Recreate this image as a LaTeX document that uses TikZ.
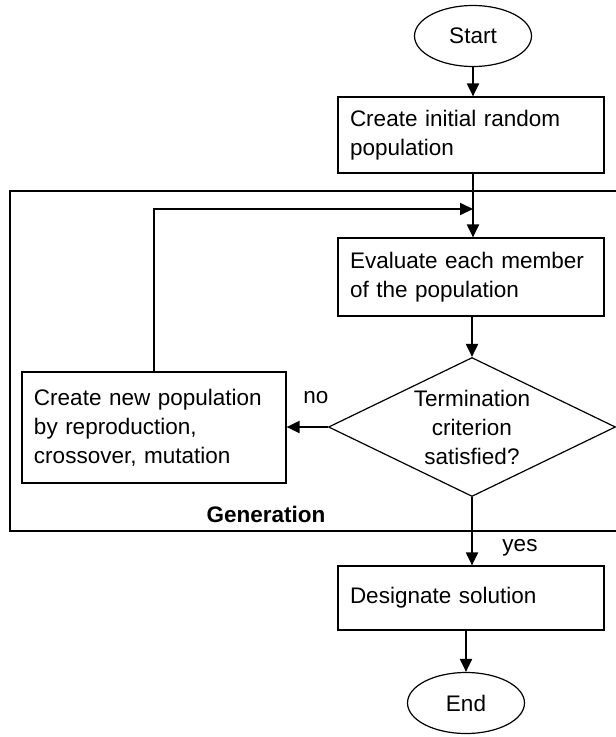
\documentclass[tikz,border=0pt]{standalone}
\usepackage{fontspec}
\setmainfont{Liberation Sans}
\usetikzlibrary{shapes.geometric,arrows.meta}
\begin{document}
\begin{tikzpicture}[x=1pt,y=-1pt,
  every node/.style={font=\fontsize{22.5}{29}\selectfont},
  term/.style={draw,line width=1.2pt,ellipse,minimum width=117pt,minimum height=61pt,inner sep=0pt},
  procbox/.style={draw,line width=1.2pt,rectangle,inner xsep=12pt,inner ysep=0pt,align=left},
  decision/.style={draw,line width=1.2pt,diamond,aspect=2.06,inner sep=0pt,minimum width=287pt,minimum height=139pt,align=center},
  arr/.style={line width=2pt,-{Triangle[length=13pt,width=12pt]}},
  frame/.style={line width=1.2pt}]
\useasboundingbox (0,0) rectangle (616,737);
\node[term] (start) at (473,36) {Start};
\node[procbox,text width=242pt,minimum height=76pt] (init) at (471,135) {Create initial random\\population};
\node[procbox,text width=242pt,minimum height=78pt] (eval) at (471,277) {Evaluate each member\\of the population};
\node[decision] (dec) at (472,427) {Termination\\criterion\\satisfied?};
\node[procbox,text width=240pt,minimum height=111pt] (newpop) at (154,427.5) {Create new population\\by reproduction,\\crossover, mutation};
\node[procbox,text width=242pt,minimum height=64pt] (des) at (471,598) {Designate solution};
\node[term] (end) at (466,703) {End};
\draw[frame] (617,191) -- (10,191) -- (10,531) -- (617,531);
\node[font=\fontsize{22.5}{29}\selectfont\bfseries] (gen) at (266,514) {Generation};
\node (no) at (316,398) {no};
\node (yes) at (520,548) {yes};
\coordinate (join) at (473,209);
\draw[arr] (start.south) -- (start.south |- init.north);
\draw[arr] (init.south -| start) -- (start |- eval.north);
\draw[arr] (newpop.north) |- (join);
\draw[arr] (eval.south -| dec) -- (dec.north);
\draw[arr] (dec.west) -- (newpop.east |- dec.west);
\draw[arr] (dec.south) -- (des.north -| dec);
\draw[arr] (des.south -| end) -- (end.north);
\end{tikzpicture}
\end{document}
